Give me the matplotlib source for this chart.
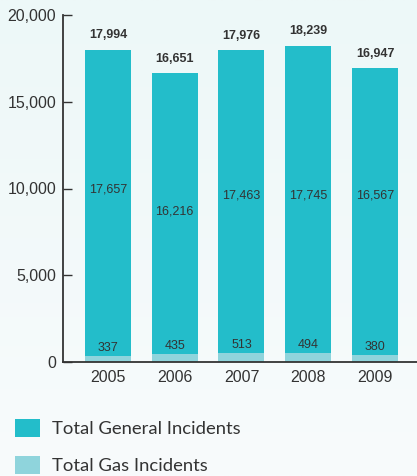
import numpy as np
import matplotlib
matplotlib.use("Agg")
import matplotlib.pyplot as plt
from matplotlib.patches import Patch

years = ["2005", "2006", "2007", "2008", "2009"]
general = [17657, 16216, 17463, 17745, 16567]
gas = [337, 435, 513, 494, 380]
totals = [17994, 16651, 17976, 18239, 16947]
# where the inner label sits (data units)
general_label_y = [9950, 8680, 9600, 9600, 9600]

GENERAL_COLOR = "#23bdca"
GAS_COLOR = "#8fd4dc"
TEXT_COLOR = "#333333"

plt.rcParams['font.family'] = ['Liberation Sans', 'DejaVu Sans']

fig = plt.figure(figsize=(4.17, 4.76), dpi=100)

# soft background gradient
bg = fig.add_axes([0, 0, 1, 1], zorder=-10)
grad = np.linspace(0, 1, 256).reshape(-1, 1)
cmap = matplotlib.colors.LinearSegmentedColormap.from_list("bg", ["#edf8f8", "#f8fbfc"])
bg.imshow(grad, aspect="auto", cmap=cmap, extent=[0, 1, 0, 1])
bg.axis("off")

ax = fig.add_axes([63 / 417, 114 / 476, 354 / 417, 347 / 476])
ax.patch.set_alpha(0)

x = np.arange(len(years))
width = 0.69
ax.bar(x, gas, width, color=GAS_COLOR, label="Total Gas Incidents")
ax.bar(x, general, width, bottom=gas, color=GENERAL_COLOR, label="Total General Incidents")

for i in range(len(years)):
    ax.annotate(f"{totals[i]:,}", (x[i], totals[i]), xytext=(0, 6), textcoords="offset points",
                ha="center", va="bottom", fontsize=9, fontweight="bold", color=TEXT_COLOR)
    ax.text(x[i], general_label_y[i], f"{general[i]:,}", ha="center", va="center",
            fontsize=9, color=TEXT_COLOR)
    ax.annotate(f"{gas[i]:,}", (x[i], gas[i]), xytext=(0, 1.5), textcoords="offset points",
                ha="center", va="bottom", fontsize=9, color=TEXT_COLOR)

ax.set_xlim(-0.674, 4.63)
ax.set_ylim(0, 20000)
ax.set_yticks([0, 5000, 10000, 15000, 20000])
ax.set_yticklabels(["0", "5,000", "10,000", "15,000", "20,000"])
ax.set_xticks(x)
ax.set_xticklabels(years)

ax.tick_params(axis="y", direction="in", length=6.5, width=1, color=TEXT_COLOR,
               labelsize=11.5, labelcolor=TEXT_COLOR, pad=5)
ax.tick_params(axis="x", length=0, labelsize=11.5, labelcolor=TEXT_COLOR, pad=6)

for side in ["top", "right"]:
    ax.spines[side].set_visible(False)
for side in ["left", "bottom"]:
    ax.spines[side].set_color(TEXT_COLOR)
    ax.spines[side].set_linewidth(1.3)

handles = [Patch(facecolor=GENERAL_COLOR, label="Total General Incidents"),
           Patch(facecolor=GAS_COLOR, label="Total Gas Incidents")]
fig.legend(handles=handles, loc="upper left", bbox_to_anchor=(15 / 417, 1 - 419 / 476),
           frameon=False, prop={'family': 'Lato', 'size': 13.3},
           handlelength=1.35, handleheight=1.14, handletextpad=0.65,
           labelspacing=1.0, borderpad=0, borderaxespad=0, labelcolor=TEXT_COLOR)

fig.savefig("out.png", dpi=100)
